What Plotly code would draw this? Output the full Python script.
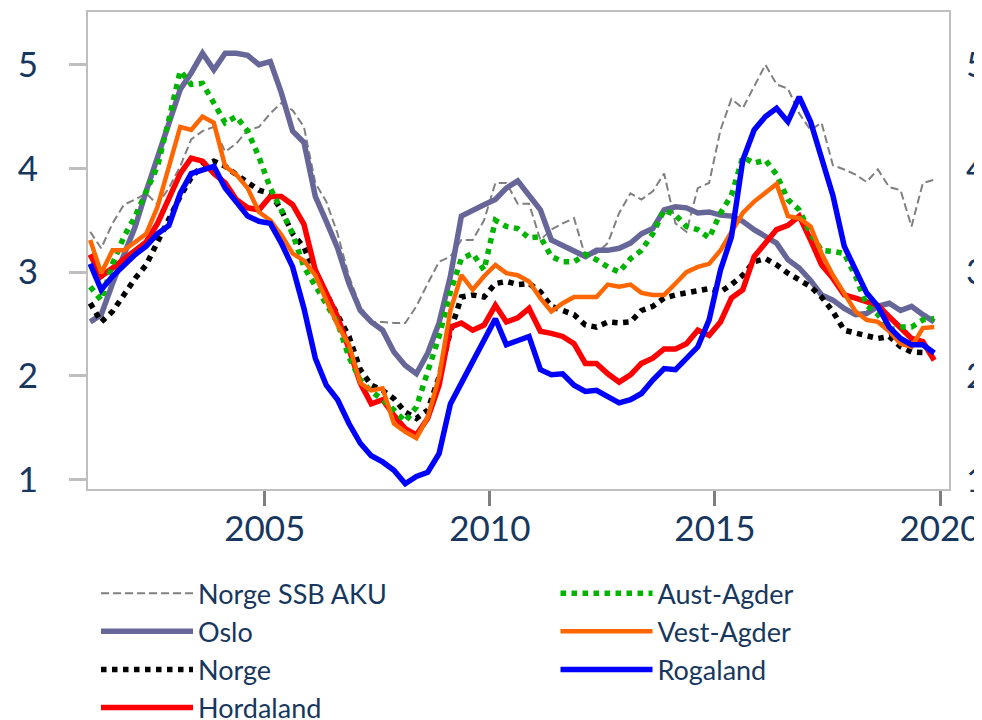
import pandas as pd
import plotly.graph_objects as go

# quarterly observations, mid-month, Feb 2001 - Nov 2019
dates = pd.date_range("2001-02-01", periods=76, freq="3MS") + pd.Timedelta(days=14)

norge_ssb_aku = [
    3.39, 3.23, 3.47, 3.65, 3.70, 3.76, 3.65, 3.81, 4.02, 4.28, 4.36, 4.40, 4.16, 4.24, 4.37, 4.40, 4.53, 4.63, 4.56, 4.40,
    3.86, 3.68, 3.37, 2.96, 2.67, 2.52, 2.52, 2.51, 2.51, 2.67, 2.89, 3.10, 3.15, 3.31, 3.31, 3.50, 3.86, 3.86, 3.66,
    3.66, 3.31, 3.41, 3.47, 3.52, 3.15, 3.18, 3.28, 3.57, 3.76, 3.70, 3.78, 3.95, 3.47, 3.39, 3.81, 3.86, 4.37, 4.67,
    4.58, 4.79, 5.00, 4.81, 4.77, 4.53, 4.37, 4.44, 4.03, 3.99, 3.94, 3.87, 3.99, 3.82, 3.79, 3.44, 3.86, 3.89,
]
oslo = [
    2.52, 2.59, 2.89, 3.18, 3.44, 3.78, 4.10, 4.45, 4.76, 4.92, 5.11, 4.95, 5.11, 5.11, 5.09, 5.00, 5.03, 4.73, 4.36, 4.25,
    3.73, 3.49, 3.23, 2.89, 2.63, 2.52, 2.44, 2.23, 2.10, 2.02, 2.22, 2.51, 2.96, 3.54, 3.60, 3.65, 3.70, 3.81, 3.88,
    3.74, 3.60, 3.31, 3.26, 3.21, 3.15, 3.21, 3.21, 3.23, 3.28, 3.37, 3.42, 3.60, 3.63, 3.62, 3.57, 3.58, 3.55, 3.54,
    3.49, 3.41, 3.34, 3.28, 3.12, 3.04, 2.92, 2.78, 2.73, 2.65, 2.59, 2.60, 2.67, 2.70, 2.63, 2.67, 2.59, 2.52,
]
norge = [
    2.70, 2.52, 2.62, 2.78, 2.94, 3.07, 3.29, 3.50, 3.73, 3.91, 4.03, 4.07, 4.02, 3.94, 3.86, 3.79, 3.76, 3.60, 3.37, 3.24,
    2.99, 2.80, 2.60, 2.38, 2.06, 1.91, 1.86, 1.78, 1.65, 1.59, 1.67, 1.99, 2.43, 2.76, 2.78, 2.76, 2.89, 2.91, 2.88,
    2.89, 2.81, 2.67, 2.63, 2.59, 2.49, 2.47, 2.52, 2.51, 2.52, 2.63, 2.67, 2.75, 2.78, 2.80, 2.81, 2.84, 2.81, 2.88,
    2.97, 3.10, 3.13, 3.07, 2.99, 2.92, 2.86, 2.76, 2.62, 2.44, 2.41, 2.38, 2.36, 2.38, 2.28, 2.23, 2.22, 2.22,
]
hordaland = [
    3.17, 2.96, 3.04, 3.12, 3.20, 3.29, 3.47, 3.70, 3.95, 4.10, 4.07, 3.95, 3.86, 3.70, 3.62, 3.60, 3.73, 3.73, 3.65, 3.46,
    3.02, 2.80, 2.57, 2.26, 1.93, 1.73, 1.77, 1.62, 1.49, 1.43, 1.59, 1.91, 2.47, 2.51, 2.44, 2.49, 2.68, 2.52, 2.56,
    2.65, 2.43, 2.41, 2.38, 2.31, 2.12, 2.12, 2.02, 1.94, 2.01, 2.12, 2.17, 2.26, 2.26, 2.31, 2.44, 2.39, 2.52, 2.75,
    2.83, 3.15, 3.29, 3.41, 3.45, 3.54, 3.31, 3.07, 2.94, 2.78, 2.75, 2.71, 2.68, 2.57, 2.46, 2.36, 2.33, 2.15,
]
aust_agder = [
    2.86, 2.73, 3.08, 3.34, 3.54, 3.79, 4.02, 4.47, 4.94, 4.81, 4.82, 4.63, 4.44, 4.50, 4.36, 4.11, 3.81, 3.60, 3.37, 3.05,
    2.86, 2.70, 2.51, 2.18, 1.96, 1.85, 1.77, 1.67, 1.56, 1.70, 2.02, 2.38, 2.81, 3.13, 3.18, 3.02, 3.50, 3.44, 3.42,
    3.33, 3.34, 3.15, 3.10, 3.10, 3.17, 3.12, 3.05, 3.00, 3.13, 3.21, 3.37, 3.60, 3.55, 3.44, 3.41, 3.33, 3.57, 3.74,
    4.11, 4.05, 4.08, 3.94, 3.70, 3.60, 3.37, 3.21, 3.20, 3.18, 2.96, 2.68, 2.59, 2.44, 2.47, 2.47, 2.54, 2.55,
]
vest_agder = [
    3.31, 2.99, 3.21, 3.21, 3.29, 3.37, 3.63, 4.02, 4.40, 4.37, 4.50, 4.44, 4.02, 3.94, 3.81, 3.58, 3.50, 3.36, 3.18, 3.11,
    2.97, 2.73, 2.49, 2.30, 1.93, 1.86, 1.88, 1.54, 1.46, 1.40, 1.60, 1.99, 2.63, 2.97, 2.83, 2.96, 3.07, 2.99, 2.97,
    2.91, 2.75, 2.62, 2.70, 2.76, 2.76, 2.76, 2.88, 2.86, 2.88, 2.80, 2.78, 2.78, 2.89, 3.00, 3.05, 3.08, 3.21, 3.39,
    3.57, 3.68, 3.76, 3.85, 3.54, 3.52, 3.44, 3.18, 2.97, 2.80, 2.62, 2.54, 2.52, 2.43, 2.31, 2.28, 2.46, 2.47,
]
rogaland = [
    3.08, 2.83, 2.96, 3.07, 3.17, 3.25, 3.37, 3.45, 3.76, 3.95, 3.99, 4.02, 3.81, 3.68, 3.54, 3.49, 3.47, 3.28, 3.05, 2.65,
    2.17, 1.91, 1.77, 1.54, 1.35, 1.23, 1.17, 1.09, 0.96, 1.03, 1.07, 1.25, 1.73, 1.93, 2.14, 2.34, 2.55, 2.30, 2.34,
    2.38, 2.06, 2.01, 2.02, 1.91, 1.85, 1.86, 1.80, 1.74, 1.77, 1.83, 1.96, 2.07, 2.06, 2.17, 2.28, 2.54, 3.02, 3.34,
    4.08, 4.37, 4.50, 4.58, 4.45, 4.69, 4.45, 4.10, 3.74, 3.25, 3.02, 2.80, 2.67, 2.47, 2.36, 2.30, 2.30, 2.22,
]

navy = '#17375E'
font = 'Lato, Open Sans, sans-serif'

fig = go.Figure()

series = [
    ('Norge SSB AKU', norge_ssb_aku, '#808080', 2, '8px,4px', 'legend'),
    ('Oslo', oslo, '#666699', 5.5, 'solid', 'legend'),
    ('Norge', norge, '#000000', 5.5, 'dot', 'legend'),
    ('Hordaland', hordaland, '#FF0000', 5.5, 'solid', 'legend'),
    ('Aust-Agder', aust_agder, '#00B400', 5.5, 'dot', 'legend2'),
    ('Vest-Agder', vest_agder, '#FF6600', 4.5, 'solid', 'legend2'),
    ('Rogaland', rogaland, '#0000FF', 5.5, 'solid', 'legend2'),
]
for name, vals, color, width, dash, leg in series:
    fig.add_trace(go.Scatter(x=dates, y=vals, name=name, mode='lines', legend=leg,
                             line=dict(color=color, width=width, dash=dash)))

# right hand axis copy (labels only)
fig.add_trace(go.Scatter(x=dates[:1], y=norge[:1], yaxis='y2', mode='lines',
                         showlegend=False, hoverinfo='skip', line=dict(width=0)))

# the page adds an 8px body margin, margins below allow for that
fig.update_layout(
    width=982, height=720,
    margin=dict(l=80, r=41, t=4, b=239, autoexpand=False),
    plot_bgcolor='white', paper_bgcolor='white',
    font=dict(family=font, color=navy),
    legend=dict(x=0.0093, y=-0.168, xanchor='left', yanchor='top', font=dict(size=27, color=navy),
                bgcolor='rgba(0,0,0,0)', itemwidth=92),
    legend2=dict(x=0.543, y=-0.168, xanchor='left', yanchor='top', font=dict(size=27, color=navy),
                 bgcolor='rgba(0,0,0,0)', itemwidth=92),
)

fig.update_xaxes(
    type='date', range=['2001-01-28', '2020-03-14'],
    tick0='2005-01-01', dtick='M60', tickformat='%Y',
    showgrid=False, zeroline=False, automargin=False,
    showline=True, linecolor='#BFBFBF', linewidth=2, mirror=True,
    ticks='outside', ticklen=15, tickwidth=3, tickcolor='#7F7F7F',
    tickfont=dict(size=35, color=navy, family=font), ticklabelstandoff=-7,
)
fig.update_yaxes(
    range=[0.909, 5.508], tickvals=[1, 2, 3, 4, 5],
    showgrid=False, zeroline=False, automargin=False,
    showline=True, linecolor='#BFBFBF', linewidth=2, mirror=True,
    ticks='outside', ticklen=17, tickwidth=3, tickcolor='#BFBFBF',
    tickfont=dict(size=35, color=navy, family=font), ticklabelstandoff=24,
)
fig.update_layout(yaxis2=dict(
    overlaying='y', side='right', range=[0.909, 5.508], tickvals=[1, 2, 3, 4, 5],
    showgrid=False, zeroline=False, showline=False, ticks='', automargin=False,
    tickfont=dict(size=35, color=navy, family=font), ticklabelstandoff=16,
))

fig.write_html("out.html")
